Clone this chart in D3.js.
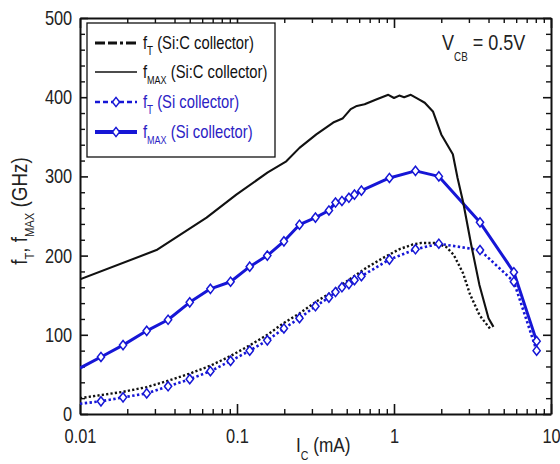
<!DOCTYPE html>
<html>
<head>
<meta charset="utf-8">
<script src="https://cdn.jsdelivr.net/npm/d3@7"></script>
<style>
  body { margin: 0; background: #fff; }
  svg { display: block; }
  text { font-family: "Liberation Sans", Arial, sans-serif; }
</style>
</head>
<body>
<svg id="chart" width="560" height="464"></svg>
<script>
// Collector current (mA) and cutoff frequencies (GHz)
const xSiCfT = [0.01, 0.0188, 0.0266, 0.0364, 0.05, 0.0677, 0.0905, 0.119, 0.156, 0.199, 0.25, 0.32, 0.41, 0.52, 0.66, 0.85, 1.08, 1.31, 1.5, 1.85, 2.15, 2.4, 2.75, 3.05, 3.5, 4.15];
const fTSiC   = [20, 28, 34, 42, 51, 61, 73, 86, 100, 115, 127, 142, 155, 170, 184, 197, 208, 214, 216, 216, 211, 201, 178, 151, 125, 106];

const xSiCfMax = [0.01, 0.0307, 0.064, 0.099, 0.157, 0.206, 0.25, 0.32, 0.41, 0.47, 0.53, 0.58, 0.65, 0.77, 0.92, 1.0, 1.08, 1.16, 1.28, 1.45, 1.57, 1.77, 2.0, 2.37, 2.54, 2.76, 3.1, 3.5, 4.0, 4.3];
const fMaxSiC  = [170, 207, 248, 277, 305, 319, 336, 353, 368, 373, 385, 389, 391, 397, 403, 399, 402, 400, 403, 397, 393, 382, 353, 328, 298, 267, 214, 163, 121, 110];

const xSi    = [0.01, 0.0136, 0.0188, 0.0266, 0.0364, 0.05, 0.0677, 0.091, 0.1205, 0.156, 0.199, 0.25, 0.316, 0.385, 0.424, 0.466, 0.516, 0.56, 0.62, 0.935, 1.37, 1.93, 3.53, 5.8, 8.1];
const fTSi   = [13, 16, 21, 26, 35, 44, 54, 67, 80, 93, 108, 121, 136, 147, 154, 160, 164, 169, 174, 195, 208, 215, 207, 167, 80];
const fMaxSi = [58, 72, 87, 105, 119, 141, 158, 167, 186, 200, 218, 239, 248, 257, 267, 269, 273, 277, 282, 298, 307, 300, 242, 179, 92];

const xMajorTicks = [0.01, 0.1, 1, 10];
const xTickLabels = ["0.01", "0.1", "1", "10"];
const yMajorTicks = [0, 100, 200, 300, 400, 500];

const BLUE = "#1616d6";
const LEGEND_BLUE = "#2b22c4";
const NARROW = 0.82; // horizontal squeeze giving a condensed sans face

const svg = d3.select("#chart");
const W = 560, H = 464;
const plot = { left: 80, right: 551, top: 18, bottom: 414 };

const x = d3.scaleLog().domain([0.01, 10]).range([plot.left, plot.right]);
const y = d3.scaleLinear().domain([0, 500]).range([plot.bottom, plot.top]);

svg.append("rect").attr("width", W).attr("height", H).attr("fill", "#fff");

// minor ticks: 2..9 within each decade, every 20 GHz on the frequency axis
const xMinor = [];
[0.01, 0.1, 1].forEach(d => { for (let k = 2; k <= 9; k++) xMinor.push(d * k); });
const yMinor = d3.range(0, 501, 20).filter(v => v % 100 !== 0);

function styleAxis(g, width) {
  g.selectAll(".domain").attr("stroke", "#111").attr("stroke-width", 2);
  g.selectAll(".tick line").attr("stroke", "#111").attr("stroke-width", width);
}

// bottom
const gB = svg.append("g").attr("transform", `translate(0,${plot.bottom})`)
  .call(d3.axisBottom(x).tickValues(xMajorTicks).tickSize(-10).tickSizeOuter(0).tickPadding(15)
    .tickFormat((d, i) => xTickLabels[i]));
styleAxis(gB, 1.6);
gB.selectAll("text").attr("font-size", 20).attr("fill", "#222").attr("transform", `scale(${NARROW},1)`);
const gBm = svg.append("g").attr("transform", `translate(0,${plot.bottom})`)
  .call(d3.axisBottom(x).tickValues(xMinor).tickSize(-5).tickSizeOuter(0).tickFormat(""));
styleAxis(gBm, 1.4); gBm.select(".domain").remove();

// top
const gT = svg.append("g").attr("transform", `translate(0,${plot.top})`)
  .call(d3.axisTop(x).tickValues(xMajorTicks).tickSize(-10).tickSizeOuter(0).tickFormat(""));
styleAxis(gT, 1.6);
const gTm = svg.append("g").attr("transform", `translate(0,${plot.top})`)
  .call(d3.axisTop(x).tickValues(xMinor).tickSize(-5).tickSizeOuter(0).tickFormat(""));
styleAxis(gTm, 1.4); gTm.select(".domain").remove();

// left
const gL = svg.append("g").attr("transform", `translate(${plot.left},0)`)
  .call(d3.axisLeft(y).tickValues(yMajorTicks).tickSize(-8).tickSizeOuter(0).tickPadding(9.5)
    .tickFormat(d3.format("d")));
styleAxis(gL, 1.6);
gL.selectAll("text").attr("font-size", 20).attr("fill", "#222").attr("transform", `scale(${NARROW},1)`);
const gLm = svg.append("g").attr("transform", `translate(${plot.left},0)`)
  .call(d3.axisLeft(y).tickValues(yMinor).tickSize(-5).tickSizeOuter(0).tickFormat(""));
styleAxis(gLm, 1.4); gLm.select(".domain").remove();

// right
const gR = svg.append("g").attr("transform", `translate(${plot.right},0)`)
  .call(d3.axisRight(y).tickValues(yMajorTicks).tickSize(-8).tickSizeOuter(0).tickFormat(""));
styleAxis(gR, 1.6);
const gRm = svg.append("g").attr("transform", `translate(${plot.right},0)`)
  .call(d3.axisRight(y).tickValues(yMinor).tickSize(-5).tickSizeOuter(0).tickFormat(""));
styleAxis(gRm, 1.4); gRm.select(".domain").remove();

// clip for the data curves
svg.append("clipPath").attr("id", "plotClip").append("rect")
  .attr("x", plot.left).attr("y", plot.top)
  .attr("width", plot.right - plot.left).attr("height", plot.bottom - plot.top);
const gData = svg.append("g").attr("clip-path", "url(#plotClip)");

const line = d3.line().x(d => x(d[0])).y(d => y(d[1]));
const zip = (xs, ys) => xs.map((v, i) => [v, ys[i]]);

const diamond = "M0,-4.6L3.6,0L0,4.6L-3.6,0Z";

const series = [
  { pts: zip(xSi, fTSi), stroke: BLUE, width: 2.6, dash: "2.4,2.4", markers: true },
  { pts: zip(xSi, fMaxSi), stroke: BLUE, width: 3, dash: null, markers: true },
  { pts: zip(xSiCfT, fTSiC), stroke: "#111", width: 2.4, dash: "2.2,2.2", markers: false },
  { pts: zip(xSiCfMax, fMaxSiC), stroke: "#111", width: 2.1, dash: null, markers: false }
];

series.forEach(s => {
  gData.append("path").datum(s.pts)
    .attr("d", line).attr("fill", "none")
    .attr("stroke", s.stroke).attr("stroke-width", s.width)
    .attr("stroke-linejoin", "round")
    .attr("stroke-dasharray", s.dash);
});
series.filter(s => s.markers).forEach(s => {
  gData.selectAll(null).data(s.pts.slice(1)).enter().append("path")
    .attr("d", diamond)
    .attr("transform", d => `translate(${x(d[0])},${y(d[1])})`)
    .attr("fill", "#fff").attr("stroke", BLUE).attr("stroke-width", 1.5);
});

// text placed at (tx, ty) and squeezed horizontally
function narrowText(parent, tx, ty, size, extra = "") {
  return parent.append("text")
    .attr("transform", `translate(${tx},${ty}) ${extra} scale(${NARROW},1)`)
    .attr("font-size", size);
}

// legend
const lg = svg.append("g");
lg.append("rect").attr("x", 87).attr("y", 23).attr("width", 188).attr("height", 134)
  .attr("fill", "#fff").attr("stroke", "#111").attr("stroke-width", 1.3);

const legendRows = [
  { sub: "T", rest: " (Si:C collector)", color: "#111", stroke: "#111", width: 3, dash: "10,3,9,3,3,3", marker: false },
  { sub: "MAX", rest: " (Si:C collector)", color: "#111", stroke: "#111", width: 1.4, dash: null, marker: false },
  { sub: "T", rest: " (Si collector)", color: LEGEND_BLUE, stroke: BLUE, width: 2.6, dash: "5,3", marker: true },
  { sub: "MAX", rest: " (Si collector)", color: LEGEND_BLUE, stroke: BLUE, width: 4, dash: null, marker: true }
];
const rowY = [43, 72, 102, 132];
legendRows.forEach((r, i) => {
  const cy = rowY[i];
  lg.append("line").attr("x1", 95).attr("x2", 137).attr("y1", cy).attr("y2", cy)
    .attr("stroke", r.stroke).attr("stroke-width", r.width).attr("stroke-dasharray", r.dash);
  if (r.marker) {
    lg.append("path").attr("d", diamond).attr("transform", `translate(116,${cy})`)
      .attr("fill", "#fff").attr("stroke", BLUE).attr("stroke-width", 1.5);
  }
  const t = narrowText(lg, 143, cy + 6, 18).attr("fill", r.color);
  t.append("tspan").text("f");
  t.append("tspan").attr("font-size", r.sub === "T" ? 12 : 11).attr("dy", 6).text(r.sub);
  t.append("tspan").attr("dy", -6).text(r.rest);
});

// bias annotation
const vt = narrowText(svg, 442, 50, 22).attr("fill", "#222");
vt.append("tspan").text("V");
vt.append("tspan").attr("font-size", 12).attr("dy", 11).text("CB");
vt.append("tspan").attr("dy", -11).text(" = 0.5V");

// axis titles
const xt = narrowText(svg, 296, 452, 21).attr("fill", "#222");
xt.append("tspan").text("I");
xt.append("tspan").attr("font-size", 13).attr("dy", 8).text("C");
xt.append("tspan").attr("dy", -8).text(" (mA)");

const yt = svg.append("text").attr("transform", `translate(27,211) rotate(-90) scale(0.86,1)`)
  .attr("text-anchor", "middle").attr("font-size", 22).attr("fill", "#222");
yt.append("tspan").text("f");
yt.append("tspan").attr("font-size", 13).attr("dy", 7).text("T");
yt.append("tspan").attr("dy", -7).text(", f");
yt.append("tspan").attr("font-size", 13).attr("dy", 7).text("MAX");
yt.append("tspan").attr("dy", -7).text(" (GHz)");
</script>
</body>
</html>
